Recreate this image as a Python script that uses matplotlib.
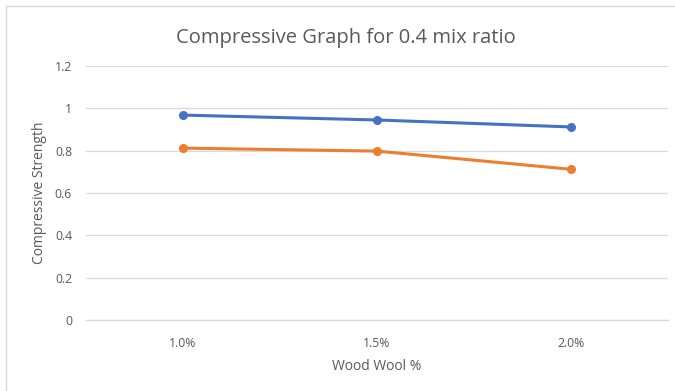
import matplotlib

matplotlib.use("Agg")

import matplotlib.pyplot as plt  # noqa: E402
from matplotlib.patches import Rectangle  # noqa: E402

# --- data ---
categories = ["1.0%", "1.5%", "2.0%"]
series_blue = [0.968, 0.945, 0.912]
series_orange = [0.812, 0.798, 0.712]
y_ticks = [0, 0.2, 0.4, 0.6, 0.8, 1.0, 1.2]
y_tick_labels = ["0", "0.2", "0.4", "0.6", "0.8", "1", "1.2"]

BLUE = "#4472C4"
ORANGE = "#ED7D31"
TEXT = "#595959"
GRID = "#D9D9D9"

plt.rcParams["font.family"] = ["Open Sans", "DejaVu Sans"]

fig = plt.figure(figsize=(6.75, 3.91), dpi=100)
ax = fig.add_axes([0.1274, 0.1816, 0.8622, 0.6496])

# chart border (Excel style frame)
fig.patches.append(
    Rectangle((6 / 675, -0.05), 1.2, 1 - 6 / 391 + 0.05, transform=fig.transFigure,
              fill=False, edgecolor="#D9D9D9", linewidth=1.0)
)

x = list(range(len(categories)))
ax.plot(x, series_blue, color=BLUE, linewidth=2.2, marker="o", markersize=5.5,
        solid_capstyle="round")
ax.plot(x, series_orange, color=ORANGE, linewidth=2.2, marker="o", markersize=5.5,
        solid_capstyle="round")

ax.set_xlim(-0.5, 2.5)
ax.set_ylim(0, 1.2)
ax.set_xticks(x)
ax.set_xticklabels(categories)
ax.set_yticks(y_ticks)
ax.set_yticklabels(y_tick_labels)
ax.tick_params(axis="both", length=0, labelsize=8.8, colors=TEXT)
ax.tick_params(axis="x", pad=12)
ax.tick_params(axis="y", pad=10)

ax.grid(axis="y", color=GRID, linewidth=0.9)
ax.set_axisbelow(True)
for s in ["top", "right", "left"]:
    ax.spines[s].set_visible(False)
ax.spines["bottom"].set_color(GRID)
ax.spines["bottom"].set_linewidth(0.9)

ax.set_xlabel("Wood Wool %", fontsize=10, color=TEXT, labelpad=7)
ax.set_ylabel("Compressive Strength", fontsize=10, color=TEXT, labelpad=6)

fig.text(346 / 675, 1 - 38 / 391, "Compressive Graph for 0.4 mix ratio",
         ha="center", va="center", fontsize=14.5, color=TEXT)

fig.savefig("out.png", dpi=100, facecolor="white")
